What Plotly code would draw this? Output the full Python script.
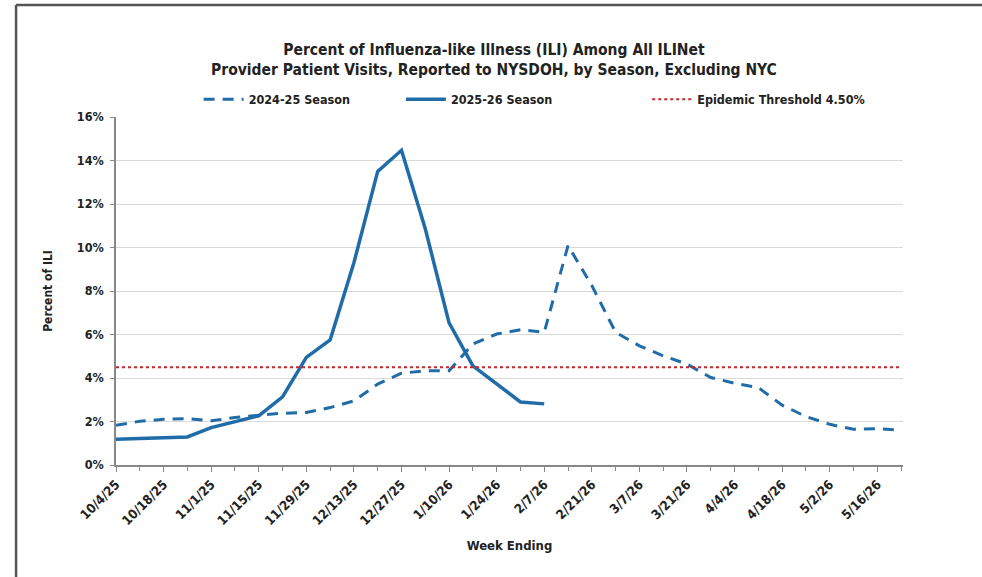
import plotly.graph_objects as go

week_labels = ["10/4/25", "10/11/25", "10/18/25", "10/25/25", "11/1/25", "11/8/25", "11/15/25",
               "11/22/25", "11/29/25", "12/6/25", "12/13/25", "12/20/25", "12/27/25", "1/3/26",
               "1/10/26", "1/17/26", "1/24/26", "1/31/26", "2/7/26", "2/14/26", "2/21/26", "2/28/26",
               "3/7/26", "3/14/26", "3/21/26", "3/28/26", "4/4/26", "4/11/26", "4/18/26", "4/25/26",
               "5/2/26", "5/9/26", "5/16/26", "5/23/26"]

season_2425 = [1.83, 2.01, 2.10, 2.13, 2.03, 2.18, 2.29, 2.38, 2.41, 2.64, 2.95, 3.72, 4.22, 4.33,
               4.33, 5.56, 6.02, 6.22, 6.10, 10.09, 8.25, 6.10, 5.48, 5.02, 4.64, 4.02, 3.76, 3.56,
               2.75, 2.23, 1.87, 1.64, 1.67, 1.60]

season_2526 = [1.18, 1.21, 1.24, 1.29, 1.72, 1.97, 2.26, 3.13, 4.95, 5.75, 9.30, 13.50, 14.47,
               10.86, 6.53, 4.56, 3.72, 2.90, 2.81]

threshold = 4.5

x_all = list(range(len(week_labels)))
blue = "#1F6CA9"
text_color = "#222222"
font_family = "DejaVu Sans Condensed, Liberation Sans Narrow, sans-serif"

fig = go.Figure()
fig.add_trace(go.Scatter(
    x=x_all, y=season_2425, mode="lines", name="<b>2024-25 Season</b>",
    line=dict(color=blue, width=3, dash="11px,8px"), legend="legend"))
fig.add_trace(go.Scatter(
    x=x_all[:len(season_2526)], y=season_2526, mode="lines", name="<b>2025-26 Season</b>",
    line=dict(color=blue, width=3.5), legend="legend2"))
fig.add_trace(go.Scatter(
    x=x_all, y=[threshold] * len(x_all), mode="lines", name="<b>Epidemic Threshold 4.50%</b>",
    line=dict(color="#C0272D", width=2, dash="dot"), legend="legend3"))

legend_common = dict(orientation="h", yanchor="middle", y=1.05, xanchor="left",
                     bgcolor="rgba(0,0,0,0)", itemwidth=40,
                     font=dict(family=font_family, size=12.5, color=text_color))

fig.update_layout(
    width=982, height=577,
    margin=dict(l=116, r=79, t=117, b=112),
    paper_bgcolor="white", plot_bgcolor="white",
    showlegend=True,
    font=dict(family=font_family, color=text_color),
    title=dict(
        text="<b>Percent of Influenza-like Illness (ILI) Among All ILINet<br>"
             "Provider Patient Visits, Reported to NYSDOH, by Season, Excluding NYC</b>",
        x=0.503, xref="container", xanchor="center", y=0.905, yanchor="middle", yref="container",
        font=dict(family=font_family, size=15.5, color=text_color)),
    legend=dict(x=0.105, **legend_common),
    legend2=dict(x=0.362, **legend_common),
    legend3=dict(x=0.675, **legend_common),
    xaxis=dict(
        range=[0, 33.08], tickmode="array",
        tickvals=x_all[::2], ticktext=["<b>%s</b>" % t for t in week_labels[::2]],
        tickangle=-45, ticks="outside", ticklen=5, tickcolor="#888888",
        minor=dict(ticks="outside", dtick=1, tick0=0, ticklen=4, tickcolor="#888888"),
        showline=True, linecolor="#888888", linewidth=1.5,
        showgrid=False, zeroline=False,
        tickfont=dict(size=13, color=text_color),
        title=dict(text="<b>Week Ending</b>", font=dict(size=13, color=text_color), standoff=14)),
    yaxis=dict(
        range=[0, 16], tickvals=[0, 2, 4, 6, 8, 10, 12, 14, 16],
        ticktext=["<b>%d%%</b>" % v for v in [0, 2, 4, 6, 8, 10, 12, 14, 16]],
        ticks="outside", ticklen=4, tickcolor="#888888", ticklabelstandoff=4,
        showline=True, linecolor="#888888", linewidth=1.5,
        showgrid=True, gridcolor="#D9D9D9", gridwidth=1.2, zeroline=False,
        tickfont=dict(size=12.5, color=text_color),
        title=dict(text="<b>Percent of ILI</b>", font=dict(size=12, color=text_color), standoff=22)),
    shapes=[
        dict(type="line", xref="paper", yref="paper", x0=-0.127, x1=1.2, y0=1.322, y1=1.322,
             line=dict(color="#555555", width=2.5)),
        dict(type="line", xref="paper", yref="paper", x0=-0.127, x1=-0.127, y0=1.322, y1=-0.4,
             line=dict(color="#555555", width=2.5)),
    ],
)

fig.write_html("out.html", config={"displayModeBar": False},
               post_script="document.body.style.margin='0px';")
